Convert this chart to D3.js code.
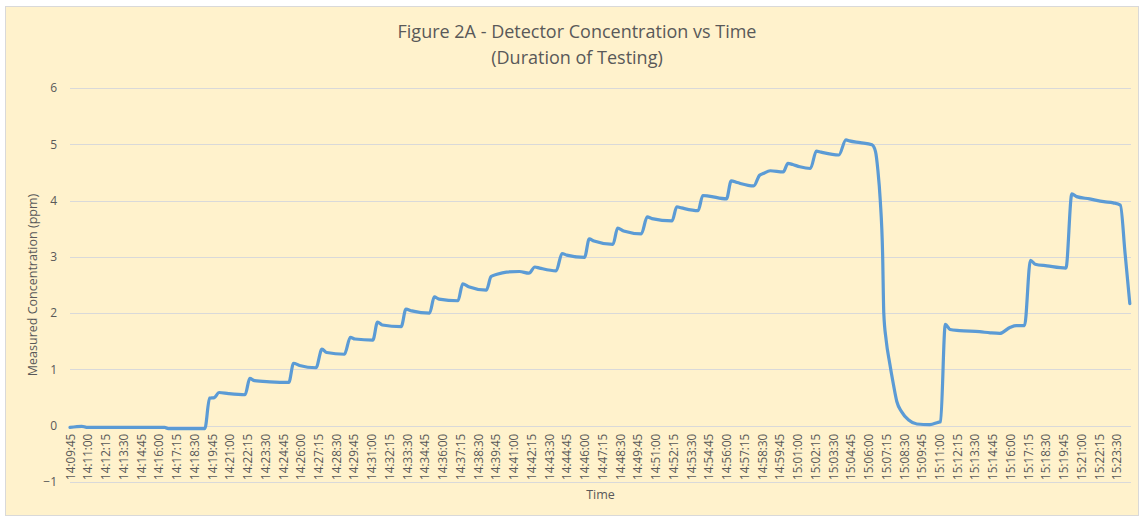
<!DOCTYPE html>
<html>
<head>
<meta charset="utf-8">
<script src="https://cdn.jsdelivr.net/npm/d3@7"></script>
<style>
  html, body { margin: 0; padding: 0; background: #fff; }
  #chart { width: 1142px; height: 517px; }
  text { font-family: "Open Sans", sans-serif; }
</style>
</head>
<body>
<div id="chart"></div>
<script>
// readings (hh:mm:ss, ppm)
const times = [
  "14:09:45", "14:10:35", "14:10:55", "14:16:25", "14:16:40", "14:19:15", "14:19:35", "14:19:55",
  "14:20:15", "14:20:55", "14:22:05", "14:22:25", "14:22:45", "14:23:50", "14:25:10", "14:25:30",
  "14:25:55", "14:27:05", "14:27:30", "14:27:50", "14:29:05", "14:29:30", "14:29:50", "14:31:05",
  "14:31:25", "14:31:45", "14:33:05", "14:33:25", "14:33:50", "14:35:05", "14:35:25", "14:35:45",
  "14:37:05", "14:37:25", "14:37:50", "14:39:05", "14:39:25", "14:39:50", "14:40:30", "14:41:25",
  "14:42:05", "14:42:30", "14:42:50", "14:44:00", "14:44:25", "14:44:45", "14:46:00", "14:46:20",
  "14:46:40", "14:48:00", "14:48:20", "14:48:45", "14:50:00", "14:50:25", "14:50:45", "14:52:10",
  "14:52:30", "14:52:50", "14:54:00", "14:54:20", "14:54:45", "14:56:00", "14:56:20", "14:56:45",
  "14:57:55", "14:58:20", "14:58:35", "14:59:05", "15:00:00", "15:00:20", "15:00:40", "15:01:10",
  "15:01:55", "15:02:20", "15:02:40", "15:03:55", "15:04:25", "15:04:40", "15:05:25", "15:06:15",
  "15:06:30", "15:06:40", "15:06:50", "15:07:00", "15:07:05", "15:07:15", "15:07:30", "15:07:45",
  "15:08:00", "15:08:20", "15:08:50", "15:09:25", "15:10:20", "15:10:55", "15:11:05", "15:11:25",
  "15:11:45", "15:12:25", "15:13:50", "15:14:35", "15:15:15", "15:16:00", "15:16:25", "15:17:00",
  "15:17:25", "15:17:45", "15:18:35", "15:19:55", "15:20:20", "15:20:40", "15:21:35", "15:22:35",
  "15:23:15", "15:23:45", "15:24:05", "15:24:25"
];
const concentration = [
  -0.03, -0.01, -0.03, -0.03, -0.05, -0.05, 0.49, 0.50,
  0.59, 0.57, 0.55, 0.84, 0.80, 0.78, 0.77, 1.11,
  1.07, 1.03, 1.36, 1.30, 1.27, 1.57, 1.54, 1.52,
  1.84, 1.79, 1.76, 2.07, 2.04, 2.00, 2.29, 2.25,
  2.22, 2.52, 2.47, 2.41, 2.65, 2.69, 2.73, 2.74,
  2.71, 2.82, 2.80, 2.75, 3.06, 3.03, 2.99, 3.32,
  3.28, 3.22, 3.51, 3.46, 3.41, 3.71, 3.68, 3.64,
  3.89, 3.87, 3.82, 4.09, 4.08, 4.03, 4.35, 4.32,
  4.26, 4.45, 4.48, 4.53, 4.51, 4.66, 4.64, 4.60,
  4.57, 4.88, 4.86, 4.81, 5.08, 5.06, 5.03, 4.99,
  4.87, 4.54, 4.01, 3.06, 2.00, 1.52, 1.11, 0.75,
  0.43, 0.25, 0.10, 0.03, 0.02, 0.06, 0.07, 1.80,
  1.71, 1.69, 1.67, 1.65, 1.64, 1.75, 1.78, 1.78,
  2.94, 2.87, 2.84, 2.80, 4.12, 4.07, 4.03, 3.98,
  3.96, 3.92, 3.06, 2.17
];

const xLabels = [
  "14:09:45", "14:11:00", "14:12:15", "14:13:30", "14:14:45", "14:16:00", "14:17:15", "14:18:30",
  "14:19:45", "14:21:00", "14:22:15", "14:23:30", "14:24:45", "14:26:00", "14:27:15", "14:28:30",
  "14:29:45", "14:31:00", "14:32:15", "14:33:30", "14:34:45", "14:36:00", "14:37:15", "14:38:30",
  "14:39:45", "14:41:00", "14:42:15", "14:43:30", "14:44:45", "14:46:00", "14:47:15", "14:48:30",
  "14:49:45", "14:51:00", "14:52:15", "14:53:30", "14:54:45", "14:56:00", "14:57:15", "14:58:30",
  "14:59:45", "15:01:00", "15:02:15", "15:03:30", "15:04:45", "15:06:00", "15:07:15", "15:08:30",
  "15:09:45", "15:11:00", "15:12:15", "15:13:30", "15:14:45", "15:16:00", "15:17:15", "15:18:30",
  "15:19:45", "15:21:00", "15:22:15", "15:23:30"
];
const yTicks = [-1, 0, 1, 2, 3, 4, 5, 6];
const lastTime = "15:24:30";

const width = 1142;
const height = 517;

const toSec = s => {
  const p = s.split(":").map(Number);
  return p[0] * 3600 + p[1] * 60 + p[2];
};

const data = times.map((t, i) => ({ t: toSec(t), v: concentration[i] }));

const margin = { left: 70, right: 11, top: 88, bottom: 35 };

const x = d3.scaleLinear()
  .domain([toSec(xLabels[0]), toSec(lastTime)])
  .range([margin.left, width - margin.right]);

const y = d3.scaleLinear()
  .domain([-1, 6])
  .range([height - margin.bottom, margin.top]);

const svg = d3.select("#chart")
  .append("svg")
  .attr("width", width)
  .attr("height", height);

svg.append("rect")
  .attr("x", 5.5)
  .attr("y", 6.5)
  .attr("width", 1133)
  .attr("height", 509)
  .attr("fill", "#fff2cc")
  .attr("stroke", "#d9d9d9")
  .attr("stroke-width", 1);

// gridlines
svg.append("g")
  .attr("class", "grid")
  .selectAll("line")
  .data(yTicks)
  .enter()
  .append("line")
  .attr("x1", margin.left)
  .attr("x2", width - margin.right)
  .attr("y1", d => Math.round(y(d)) + 0.5)
  .attr("y2", d => Math.round(y(d)) + 0.5)
  .attr("stroke", "#d9d9d9")
  .attr("stroke-width", 1);

// y axis
const yAxis = svg.append("g")
  .attr("transform", `translate(${margin.left},0)`)
  .call(d3.axisLeft(y).tickValues(yTicks).tickSize(0).tickPadding(13).tickFormat(d3.format("d")));
yAxis.select(".domain").remove();
yAxis.selectAll("text")
  .style("font-family", "'Open Sans', sans-serif")
  .style("font-size", "12px")
  .attr("fill", "#595959");

// x axis at 0
const xAxis = svg.append("g")
  .attr("transform", `translate(0,${y(0)})`)
  .call(d3.axisBottom(x).tickValues(xLabels.map(toSec)).tickSize(0)
    .tickFormat((d, i) => xLabels[i]));
xAxis.select(".domain").remove();
xAxis.selectAll("text")
  .attr("transform", "rotate(-90)")
  .attr("text-anchor", "end")
  .attr("x", -8)
  .attr("y", 0)
  .attr("dy", "0.35em")
  .style("font-family", "'Open Sans', sans-serif")
  .style("font-size", "11.7px")
  .attr("fill", "#595959");

// line
const line = d3.line()
  .curve(d3.curveMonotoneX)
  .x(d => x(d.t))
  .y(d => y(d.v));

svg.append("path")
  .datum(data)
  .attr("d", line)
  .attr("fill", "none")
  .attr("stroke", "#5b9bd5")
  .attr("stroke-width", 3.2)
  .attr("stroke-linejoin", "round")
  .attr("stroke-linecap", "round");

// titles
svg.append("text")
  .attr("x", 577)
  .attr("y", 38)
  .attr("text-anchor", "middle")
  .attr("fill", "#595959")
  .style("font-size", "18px")
  .text("Figure 2A - Detector Concentration vs Time");

svg.append("text")
  .attr("x", 577)
  .attr("y", 64)
  .attr("text-anchor", "middle")
  .attr("fill", "#595959")
  .style("font-size", "18px")
  .text("(Duration of Testing)");

svg.append("text")
  .attr("x", (margin.left + width - margin.right) / 2)
  .attr("y", 499)
  .attr("text-anchor", "middle")
  .attr("fill", "#595959")
  .style("font-size", "12.5px")
  .text("Time");

svg.append("text")
  .attr("transform", `translate(37,${(y(-1) + y(6)) / 2}) rotate(-90)`)
  .attr("text-anchor", "middle")
  .attr("fill", "#595959")
  .style("font-size", "12.5px")
  .text("Measured Concentration (ppm)");
</script>
</body>
</html>
